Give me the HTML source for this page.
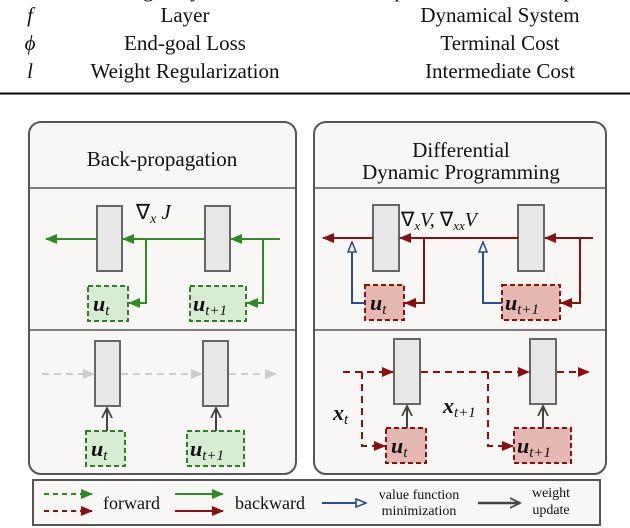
<!DOCTYPE html>
<html><head><style>
html,body{margin:0;padding:0;background:#fff;}
svg{display:block;}
text{font-family:"Liberation Serif","Times New Roman",serif;fill:#111;}
.m{font-style:italic;}
</style></head><body>
<svg width="630" height="528" viewBox="0 0 630 528" xmlns="http://www.w3.org/2000/svg">
<defs>
<marker id="ag" markerWidth="12" markerHeight="10" refX="11" refY="5" orient="auto" markerUnits="userSpaceOnUse"><path d="M0,0 L12,5 L0,10 z" fill="#2e8b22"/></marker>
<marker id="ar" markerWidth="12" markerHeight="10" refX="11" refY="5" orient="auto" markerUnits="userSpaceOnUse"><path d="M0,0 L12,5 L0,10 z" fill="#8b0f0f"/></marker>
<marker id="agr" markerWidth="12" markerHeight="10" refX="11" refY="5" orient="auto" markerUnits="userSpaceOnUse"><path d="M0,0 L12,5 L0,10 z" fill="#ccc"/></marker>
<marker id="ab" markerWidth="12" markerHeight="10" refX="11" refY="5" orient="auto" markerUnits="userSpaceOnUse"><path d="M1,1 L11,5 L1,9 z" fill="#fff" stroke="#2a4a9a" stroke-width="1.6"/></marker>
<marker id="ak" markerWidth="12" markerHeight="12" refX="10" refY="6" orient="auto" markerUnits="userSpaceOnUse"><path d="M0,1 L10,6 L0,11" fill="none" stroke="#444" stroke-width="1.8"/></marker>
</defs>

<g font-size="21" text-anchor="middle">
<text x="30" y="-3" class="m">w</text><text x="185" y="-3">Weight Dynamics</text><text x="500" y="-3">Optimal Control Component</text>
<text x="30" y="22" class="m">f</text><text x="185" y="22">Layer</text><text x="500" y="22">Dynamical System</text>
<text x="30" y="50" class="m">ϕ</text><text x="185" y="50">End-goal Loss</text><text x="500" y="50">Terminal Cost</text>
<text x="30" y="78" class="m">l</text><text x="185" y="78">Weight Regularization</text><text x="500" y="78">Intermediate Cost</text>
</g>
<line x1="0" y1="93.5" x2="630" y2="93.5" stroke="#000" stroke-width="2"/>

<g fill="#f8f7f6" stroke="#555" stroke-width="2">
<rect x="29" y="122" width="267" height="352" rx="12"/>
<rect x="314" y="122" width="292" height="352" rx="12"/>
</g>
<g stroke="#555" stroke-width="1.5">
<line x1="29" y1="188" x2="296" y2="188"/><line x1="29" y1="330" x2="296" y2="330"/>
<line x1="314" y1="188" x2="606" y2="188"/><line x1="314" y1="330" x2="606" y2="330"/>
</g>
<text x="162" y="166" font-size="21" text-anchor="middle">Back-propagation</text>
<text x="461" y="157" font-size="21" text-anchor="middle">Differential</text>
<text x="461" y="179" font-size="21" text-anchor="middle">Dynamic Programming</text>

<g fill="#e8e8e8" stroke="#666" stroke-width="2">
<rect x="97" y="206" width="25" height="65"/><rect x="205" y="206" width="25" height="65"/>
<rect x="95" y="341" width="25" height="65"/><rect x="203" y="341" width="25" height="65"/>
<rect x="373" y="205" width="26" height="66"/><rect x="518" y="205" width="26" height="66"/>
<rect x="394" y="339" width="26" height="65"/><rect x="530" y="339" width="26" height="65"/>
</g>

<g fill="#d8ecd4" stroke="#2e7d22" stroke-width="2" stroke-dasharray="5,3">
<rect x="88" y="286" width="40" height="35"/><rect x="190" y="286" width="56" height="35"/>
<rect x="86" y="431" width="39" height="35"/><rect x="187" y="431" width="57" height="35"/>
</g>
<g fill="#e6b8b2" stroke="#8b0f0f" stroke-width="2" stroke-dasharray="5,3">
<rect x="365" y="285" width="39" height="35"/><rect x="502" y="285" width="58" height="35"/>
<rect x="386" y="428" width="40" height="35"/><rect x="514" y="428" width="57" height="35"/>
</g>
<g font-size="22" font-weight="bold">
<text x="93" y="311" class="m">u<tspan font-size="15" font-weight="normal" dy="4">t</tspan></text>
<text x="193" y="311" class="m">u<tspan font-size="15" font-weight="normal" dy="4">t+1</tspan></text>
<text x="91" y="456" class="m">u<tspan font-size="15" font-weight="normal" dy="4">t</tspan></text>
<text x="190" y="456" class="m">u<tspan font-size="15" font-weight="normal" dy="4">t+1</tspan></text>
<text x="370" y="310" class="m">u<tspan font-size="15" font-weight="normal" dy="4">t</tspan></text>
<text x="505" y="310" class="m">u<tspan font-size="15" font-weight="normal" dy="4">t+1</tspan></text>
<text x="391" y="453" class="m">u<tspan font-size="15" font-weight="normal" dy="4">t</tspan></text>
<text x="517" y="453" class="m">u<tspan font-size="15" font-weight="normal" dy="4">t+1</tspan></text>
<text x="333" y="420" class="m">x<tspan font-size="15" font-weight="normal" dy="4">t</tspan></text>
<text x="443" y="413" class="m">x<tspan font-size="15" font-weight="normal" dy="4">t+1</tspan></text>
</g>

<text x="136" y="219" font-size="21" class="m"><tspan font-style="normal">∇</tspan><tspan font-size="14" dy="4">x</tspan><tspan dy="-4"> J</tspan></text>
<text x="401" y="226" font-size="20" class="m"><tspan font-style="normal">∇</tspan><tspan font-size="13" dy="4">x</tspan><tspan dy="-4">V, </tspan><tspan font-style="normal">∇</tspan><tspan font-size="13" dy="4">xx</tspan><tspan dy="-4">V</tspan></text>

<g stroke="#2e8b22" stroke-width="2" fill="none">
<line x1="280" y1="239" x2="231" y2="239" marker-end="url(#ag)"/>
<line x1="205" y1="239" x2="123" y2="239" marker-end="url(#ag)"/>
<line x1="97" y1="239" x2="46" y2="239" marker-end="url(#ag)"/>
<polyline points="146,239 146,303 129,303" marker-end="url(#ag)"/>
<polyline points="263,239 263,303 247,303" marker-end="url(#ag)"/>
</g>
<g stroke="#ccc" stroke-width="2" stroke-dasharray="7,5" fill="none">
<line x1="42" y1="374" x2="94" y2="374" marker-end="url(#agr)"/>
<line x1="121" y1="374" x2="202" y2="374" marker-end="url(#agr)"/>
<line x1="229" y1="374" x2="276" y2="374" marker-end="url(#agr)"/>
</g>
<g stroke="#444" stroke-width="2">
<line x1="107" y1="431" x2="107" y2="408" marker-end="url(#ak)"/>
<line x1="216" y1="431" x2="216" y2="408" marker-end="url(#ak)"/>
<line x1="407" y1="428" x2="407" y2="406" marker-end="url(#ak)"/>
<line x1="543" y1="428" x2="543" y2="406" marker-end="url(#ak)"/>
</g>

<g stroke="#8b0f0f" stroke-width="2" fill="none">
<line x1="593" y1="238" x2="545" y2="238" marker-end="url(#ar)"/>
<line x1="518" y1="238" x2="400" y2="238" marker-end="url(#ar)"/>
<line x1="373" y1="238" x2="323" y2="238" marker-end="url(#ar)"/>
<polyline points="424,238 424,303 405,303" marker-end="url(#ar)"/>
<polyline points="580,238 580,303 561,303" marker-end="url(#ar)"/>
</g>
<g stroke="#2a4a9a" stroke-width="2" fill="none">
<polyline points="365,303 352,303 352,242" marker-end="url(#ab)"/>
<polyline points="502,303 483,303 483,242" marker-end="url(#ab)"/>
</g>
<g stroke="#8b0f0f" stroke-width="2" stroke-dasharray="7,5" fill="none">
<line x1="343" y1="372" x2="393" y2="372" marker-end="url(#ar)"/>
<line x1="421" y1="372" x2="529" y2="372" marker-end="url(#ar)"/>
<line x1="557" y1="372" x2="589" y2="372" marker-end="url(#ar)"/>
<polyline points="362,372 362,446 385,446" marker-end="url(#ar)"/>
<polyline points="488,372 488,446 513,446" marker-end="url(#ar)"/>
</g>

<rect x="33" y="480" width="567" height="45" fill="#f8f7f6" stroke="#555" stroke-width="2"/>
<g stroke-width="2" fill="none">
<line x1="44" y1="494" x2="92" y2="494" stroke="#2e8b22" stroke-dasharray="5,4" marker-end="url(#ag)"/>
<line x1="44" y1="511" x2="92" y2="511" stroke="#8b0f0f" stroke-dasharray="5,4" marker-end="url(#ar)"/>
<line x1="175" y1="494" x2="223" y2="494" stroke="#2e8b22" marker-end="url(#ag)"/>
<line x1="175" y1="511" x2="223" y2="511" stroke="#8b0f0f" marker-end="url(#ar)"/>
<line x1="322" y1="503" x2="366" y2="503" stroke="#2a4a9a" marker-end="url(#ab)"/>
<line x1="478" y1="503" x2="520" y2="503" stroke="#444" stroke-width="2.5" marker-end="url(#ak)"/>
</g>
<text x="103" y="509" font-size="18">forward</text>
<text x="235" y="509" font-size="18">backward</text>
<text x="419" y="499" font-size="14" text-anchor="middle">value function</text>
<text x="419" y="515" font-size="14" text-anchor="middle">minimization</text>
<text x="551" y="497" font-size="14" text-anchor="middle">weight</text>
<text x="551" y="514" font-size="14" text-anchor="middle">update</text>
</svg>
</body></html>
